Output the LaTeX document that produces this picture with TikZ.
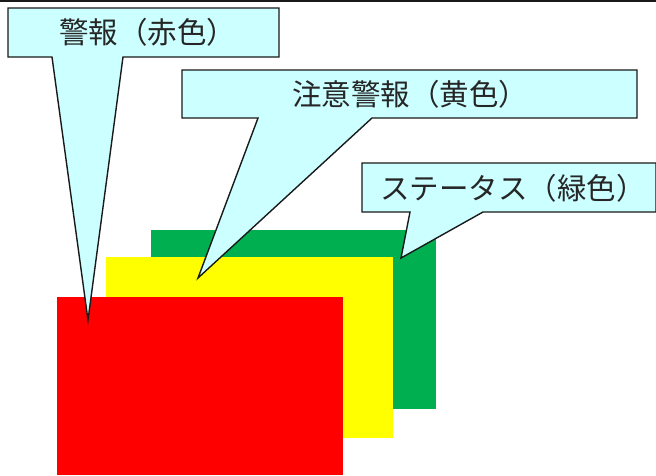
\documentclass[tikz,border=0pt]{standalone}
\usepackage{fontspec}
\newfontfamily\jpfont{Noto Sans CJK JP}
\definecolor{calloutfill}{HTML}{CCFFFF}
\definecolor{redcard}{HTML}{FF0000}
\definecolor{yellowcard}{HTML}{FFFF00}
\definecolor{greencard}{HTML}{00B050}
\definecolor{edge}{HTML}{1A1A1A}
\begin{document}
\begin{tikzpicture}[x=1pt,y=-1pt,
  card/.style={draw=none},
  callout/.style={draw=edge,fill=calloutfill,line width=1.4pt,line join=miter},
  label/.style={font=\jpfont\fontsize{29.5}{31}\selectfont,inner sep=0pt,anchor=west,text=black!85}]
\useasboundingbox (0,0) rectangle (656,475);
\fill[white] (0,0) rectangle (656,475);
\draw[edge,line width=1.6pt] (0,0.8) -- (656,0.8);
% cards
\fill[greencard] (151,230) rectangle (436,409);
\fill[yellowcard] (106,257) rectangle (393,438);
\fill[redcard] (57,297) rectangle (343,475);
% callout 1
\coordinate (t1) at (88,320);
\draw[callout] (8,8) -- (279,8) -- (279,57) -- (123,57) -- (t1) -- (52,57) -- (8,57) -- cycle;
\node[label] (l1) at (59,32) {警報（赤色）};
% callout 2
\coordinate (t2) at (198,278);
\draw[callout] (182,70) -- (637,70) -- (637,118) -- (372,118) -- (t2) -- (258,118) -- (182,118) -- cycle;
\node[label] (l2) at (292,94) {注意警報（黄色）};
% callout 3
\coordinate (t3) at (401,258);
\draw[callout] (362,163) -- (656,163) -- (656,212) -- (483,212) -- (t3) -- (410,212) -- (362,212) -- cycle;
\node[label] (l3) at (380,188) {ステータス（緑色）};
\end{tikzpicture}
\end{document}
